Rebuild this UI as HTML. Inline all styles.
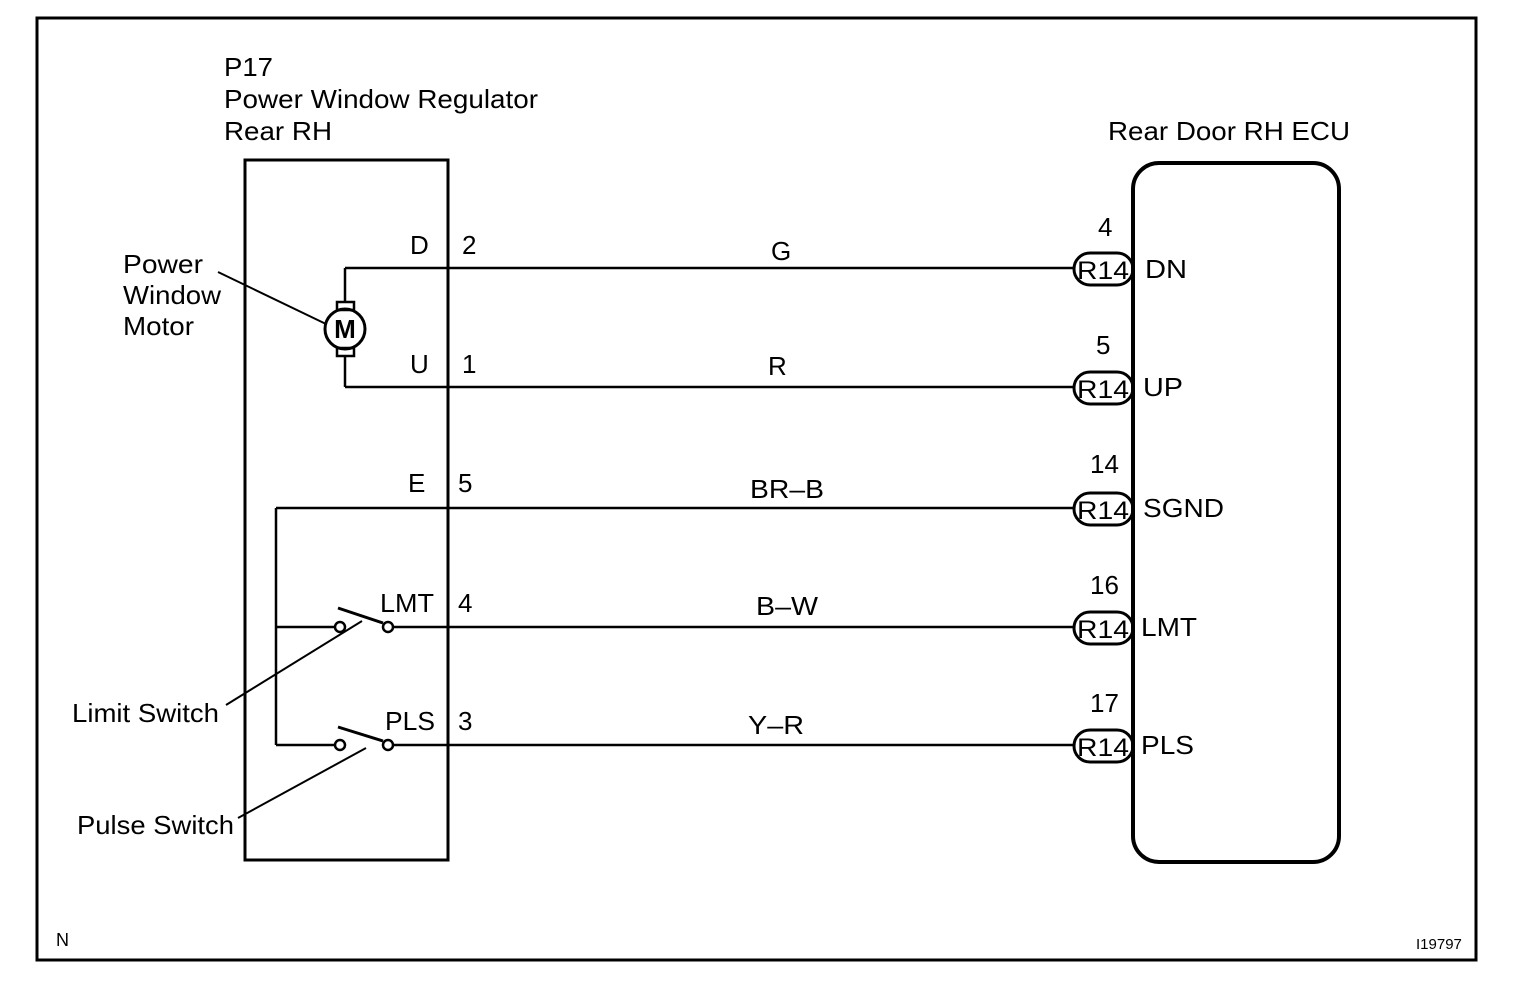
<!DOCTYPE html>
<html><head><style>
body{margin:0;background:#fff}
svg text{font-family:"Liberation Sans",Arial,sans-serif;fill:#000}
</style></head><body>
<svg width="1536" height="978" viewBox="0 0 1536 978" xmlns="http://www.w3.org/2000/svg">
<rect x="0" y="0" width="1536" height="978" fill="#fff"/>
<rect x="37" y="18" width="1439" height="942" fill="none" stroke="#000" stroke-width="3"/>
<g font-size="26">
<text x="224" y="76" textLength="49" lengthAdjust="spacingAndGlyphs">P17</text>
<text x="224" y="108" textLength="314" lengthAdjust="spacingAndGlyphs">Power Window Regulator</text>
<text x="224" y="140" textLength="108" lengthAdjust="spacingAndGlyphs">Rear RH</text>
<text x="1108" y="140" textLength="242" lengthAdjust="spacingAndGlyphs">Rear Door RH ECU</text>
<text x="123" y="273" textLength="80" lengthAdjust="spacingAndGlyphs">Power</text>
<text x="123" y="304" textLength="98" lengthAdjust="spacingAndGlyphs">Window</text>
<text x="123" y="335" textLength="71" lengthAdjust="spacingAndGlyphs">Motor</text>
<text x="72" y="722" textLength="147" lengthAdjust="spacingAndGlyphs">Limit Switch</text>
<text x="77" y="834" textLength="157" lengthAdjust="spacingAndGlyphs">Pulse Switch</text>
</g>
<rect x="245" y="160" width="203" height="700" fill="none" stroke="#000" stroke-width="3"/>
<rect x="1133" y="163" width="206" height="699" rx="26" fill="none" stroke="#000" stroke-width="4"/>
<g stroke="#000" stroke-width="2.5" fill="none">
<line x1="345" y1="268" x2="1075" y2="268"/>
<line x1="345" y1="387" x2="1075" y2="387"/>
<line x1="276" y1="508" x2="1075" y2="508"/>
<line x1="393" y1="627" x2="1075" y2="627"/>
<line x1="393" y1="745" x2="1075" y2="745"/>
<line x1="345" y1="268" x2="345" y2="302"/>
<line x1="345" y1="356" x2="345" y2="387"/>
<line x1="276" y1="508" x2="276" y2="745"/>
<line x1="276" y1="627" x2="335" y2="627"/>
<line x1="276" y1="745" x2="335" y2="745"/>
<circle cx="345" cy="329" r="20" stroke-width="3"/>
<rect x="337" y="302" width="17" height="8" stroke-width="2.5"/>
<rect x="337" y="348" width="17" height="8" stroke-width="2.5"/>
<circle cx="340" cy="627" r="5"/>
<circle cx="388" cy="627" r="5"/>
<line x1="338" y1="608" x2="383" y2="623" stroke-width="3"/>
<circle cx="340" cy="745" r="5"/>
<circle cx="388" cy="745" r="5"/>
<line x1="338" y1="727" x2="383" y2="741" stroke-width="3"/>
<line x1="218" y1="272" x2="326" y2="324" stroke-width="2"/>
<line x1="226" y1="705" x2="362" y2="621" stroke-width="2"/>
<line x1="238" y1="818" x2="366" y2="748" stroke-width="2"/>
<rect x="1074" y="253" width="59" height="32" rx="16" stroke-width="3"/>
<rect x="1074" y="372" width="59" height="32" rx="16" stroke-width="3"/>
<rect x="1074" y="493" width="59" height="32" rx="16" stroke-width="3"/>
<rect x="1074" y="612" width="59" height="32" rx="16" stroke-width="3"/>
<rect x="1074" y="730" width="59" height="32" rx="16" stroke-width="3"/>
</g>
<text x="345" y="338" font-size="26" font-weight="bold" text-anchor="middle">M</text>
<g font-size="26">
<text x="410" y="254">D</text><text x="462" y="254">2</text>
<text x="410" y="373">U</text><text x="462" y="373">1</text>
<text x="408" y="492">E</text><text x="458" y="492">5</text>
<text x="380" y="612" textLength="54" lengthAdjust="spacingAndGlyphs">LMT</text><text x="458" y="612">4</text>
<text x="385" y="730" textLength="50" lengthAdjust="spacingAndGlyphs">PLS</text><text x="458" y="730">3</text>
<text x="771" y="260">G</text>
<text x="768" y="375">R</text>
<text x="750" y="498" textLength="74" lengthAdjust="spacingAndGlyphs">BR–B</text>
<text x="756" y="615" textLength="62" lengthAdjust="spacingAndGlyphs">B–W</text>
<text x="748" y="734" textLength="56" lengthAdjust="spacingAndGlyphs">Y–R</text>
<text x="1098" y="236">4</text>
<text x="1096" y="354">5</text>
<text x="1090" y="473">14</text>
<text x="1090" y="594">16</text>
<text x="1090" y="712">17</text>
<text x="1145" y="278" textLength="42" lengthAdjust="spacingAndGlyphs">DN</text>
<text x="1143" y="396" textLength="40" lengthAdjust="spacingAndGlyphs">UP</text>
<text x="1143" y="517" textLength="81" lengthAdjust="spacingAndGlyphs">SGND</text>
<text x="1141" y="636" textLength="56" lengthAdjust="spacingAndGlyphs">LMT</text>
<text x="1141" y="754" textLength="53" lengthAdjust="spacingAndGlyphs">PLS</text>
</g>
<g font-size="25">
<text x="1077" y="279" textLength="52" lengthAdjust="spacingAndGlyphs">R14</text>
<text x="1077" y="398" textLength="52" lengthAdjust="spacingAndGlyphs">R14</text>
<text x="1077" y="519" textLength="52" lengthAdjust="spacingAndGlyphs">R14</text>
<text x="1077" y="638" textLength="52" lengthAdjust="spacingAndGlyphs">R14</text>
<text x="1077" y="756" textLength="52" lengthAdjust="spacingAndGlyphs">R14</text>
</g>
<text x="56" y="946" font-size="18">N</text>
<text x="1416" y="949" font-size="15">I19797</text>
</svg>
</body></html>
